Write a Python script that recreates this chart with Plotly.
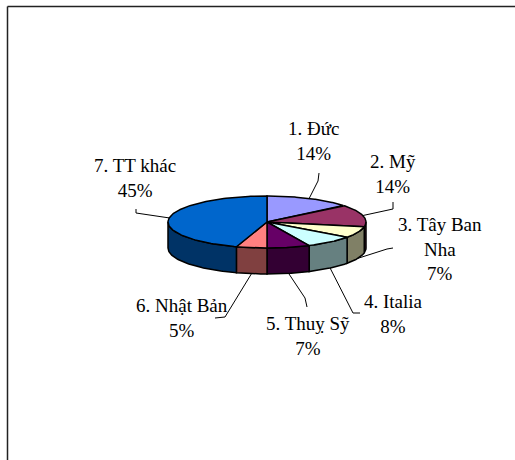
import numpy as np
import plotly.graph_objects as go

# Market shares (%) by destination
labels = ["1. Đức", "2. Mỹ", "3. Tây Ban Nha", "4. Italia",
          "5. Thuỵ Sỹ", "6. Nhật Bản", "7. TT khác"]
shares = [14, 14, 7, 8, 7, 5, 45]
label_text = ["1. Đức", "2. Mỹ", "3. Tây Ban<br>Nha", "4. Italia",
              "5. Thuỵ Sỹ", "6. Nhật Bản", "7. TT khác"]

top_colors = ["#9999FF", "#993366", "#FFFFCC", "#CCFFFF",
              "#660066", "#FF8080", "#0066CC"]
side_colors = ["#4C4C80", "#4C1933", "#808066", "#668080",
               "#330033", "#804040", "#003366"]

# Pie geometry (pixel space, y grows downward)
CX, CY = 267, 222
RX, RY = 99, 26
DEPTH = 26

# Label block centres and leader-line elbows
label_pos = [(313, 141), (393, 174), (440, 249), (393, 314),
             (308, 336), (182, 318), (135, 178)]
elbows = [[(318, 181), (319, 173)], [(393, 209), (393, 202)],
          [(387, 249), (393, 248)], [(353, 313), (360, 313)],
          [(305, 298), (307, 307)], [(225, 317), (215, 318)],
          [(136, 213), (136, 209)]]

SERIF = "'Liberation Serif', 'Times New Roman', 'DejaVu Serif', serif"


def ell(theta_deg, dy=0.0):
    t = np.radians(theta_deg)
    return CX + RX * np.sin(t), CY - RY * np.cos(t) + dy


fig = go.Figure()
total = float(sum(shares))
bounds = np.concatenate([[0], np.cumsum(shares)]) / total * 360.0

# Side walls (front half only: 90..270 degrees clockwise from top)
for i in range(len(shares)):
    t0, t1 = max(bounds[i], 90.0), min(bounds[i + 1], 270.0)
    if t1 <= t0:
        continue
    th = np.linspace(t0, t1, 60)
    xt, yt = ell(th)
    xb, yb = ell(th[::-1], DEPTH)
    fig.add_trace(go.Scatter(
        x=np.concatenate([xt, xb, xt[:1]]), y=np.concatenate([yt, yb, yt[:1]]),
        mode="lines", fill="toself", fillcolor=side_colors[i],
        line=dict(color="black", width=1.5), hoverinfo="skip", showlegend=False))

# Top faces
for i in range(len(shares)):
    th = np.linspace(bounds[i], bounds[i + 1], 120)
    xt, yt = ell(th)
    fig.add_trace(go.Scatter(
        x=np.concatenate([[CX], xt, [CX]]), y=np.concatenate([[CY], yt, [CY]]),
        mode="lines", fill="toself", fillcolor=top_colors[i],
        line=dict(color="black", width=1.5), hoverinfo="skip", showlegend=False))

# Leader lines and labels
for i in range(len(shares)):
    mid = (bounds[i] + bounds[i + 1]) / 2.0
    front = np.cos(np.radians(mid)) < 0
    sx, sy = ell(mid, DEPTH if front else 0.0)
    pts = [(sx, sy)] + elbows[i]
    fig.add_trace(go.Scatter(
        x=[p[0] for p in pts], y=[p[1] for p in pts], mode="lines",
        line=dict(color="black", width=1), hoverinfo="skip", showlegend=False))
    pct = round(shares[i] / total * 100)
    fig.add_annotation(
        x=label_pos[i][0], y=label_pos[i][1], xref="x", yref="y",
        text=f"{label_text[i]}<br>{pct}%", showarrow=False,
        xanchor="center", yanchor="middle", align="center",
        font=dict(family=SERIF, size=19, color="black"))

# Chart-area frame
fig.add_shape(type="line", xref="x", yref="y", x0=7.5, y0=6.5, x1=515, y1=6.5,
              line=dict(color="#222222", width=1.5))
fig.add_shape(type="line", xref="x", yref="y", x0=7.5, y0=6.5, x1=7.5, y1=460,
              line=dict(color="#222222", width=1.5))

fig.update_xaxes(range=[0, 515], visible=False, fixedrange=True)
fig.update_yaxes(range=[460, 0], visible=False, fixedrange=True)
fig.update_layout(width=515, height=460, margin=dict(l=0, r=0, t=0, b=0),
                  paper_bgcolor="white", plot_bgcolor="white",
                  font=dict(family=SERIF))

fig.write_html("out.html")
